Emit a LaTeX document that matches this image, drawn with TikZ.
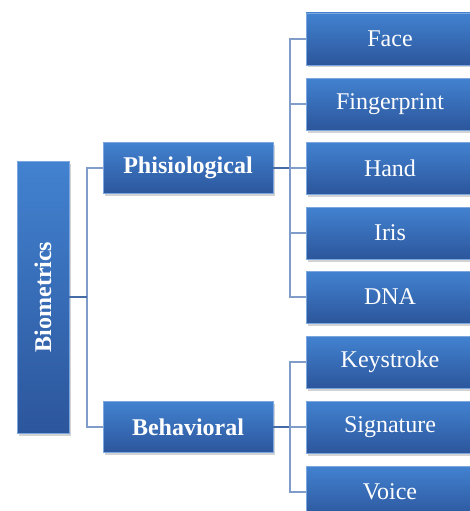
\documentclass[tikz,border=0pt]{standalone}
\usepackage{fontspec}
\setmainfont{Liberation Serif}
\usetikzlibrary{shadows}
\definecolor{boxtop}{RGB}{66,130,208}
\definecolor{boxbot}{RGB}{44,86,156}
\definecolor{linklight}{RGB}{128,156,200}
\definecolor{linkdark}{RGB}{70,108,168}
\begin{document}
\begin{tikzpicture}[x=1pt,y=-1pt,
    box/.style={top color=boxtop,bottom color=boxbot,draw=boxtop!70!white,line width=.6pt,
      text=white,inner sep=0pt,font=\fontsize{24}{26}\selectfont,
      drop shadow={shadow xshift=2pt,shadow yshift=-2.5pt,opacity=.35}},
    leaf/.style={box,minimum width=168,minimum height=52},
    group/.style={box,minimum width=170,minimum height=51,font=\fontsize{24}{26}\selectfont\bfseries},
    link/.style={linklight,line width=1.8pt},
    stub/.style={linkdark,line width=1.8pt}]
    \useasboundingbox (0,0) rectangle (470,511);
    \clip (0,0) rectangle (470,511);

    \node[box,minimum width=52,minimum height=272] (bio) at (43,297)
        {\rotatebox{90}{\bfseries Biometrics}};
    \node[group] (phys) at (188,168) {Phisiological};
    \node[group] (behav) at (188,427) {Behavioral};

    \foreach \name/\y in {Face/39,Fingerprint/104,Hand/168,Iris/233,DNA/297}
        \node[leaf] (\name) at (390,\y) {\name};
    \foreach \name/\y in {Keystroke/362,Signature/427,Voice/492}
        \node[leaf] (\name) at (390,\y) {\name};

    % connectors
    \draw[link] (bio.east) ++(18,0) coordinate (bj) |- (phys.west);
    \draw[link] (bj) |- (behav.west);
    \draw[stub] (bio.east) -- (bj);

    \draw[stub] (phys.east) -- ++(17,0) coordinate (pj);
    \foreach \name in {Face,Fingerprint,Hand,Iris,DNA}
        \draw[link] (pj) |- (\name.west);
    \draw[stub] (behav.east) -- ++(17,0) coordinate (kj);
    \foreach \name in {Keystroke,Signature,Voice}
        \draw[link] (kj) |- (\name.west);

\end{tikzpicture}
\end{document}
